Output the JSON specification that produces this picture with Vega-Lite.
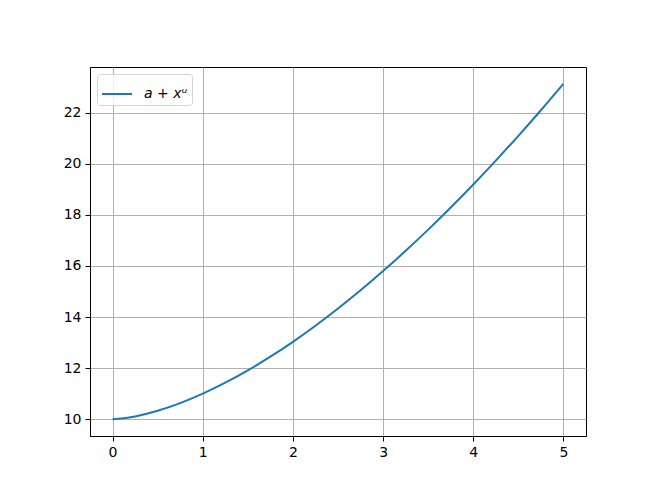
{
  "$schema": "https://vega.github.io/schema/vega-lite/v6.json",
  "width": 496,
  "height": 369,
  "autosize": {"type": "none"},
  "padding": {"left": 90, "top": 67, "right": 74, "bottom": 63},
  "background": "white",
  "data": {
    "values": [
      {"x": 0, "y": 10.0, "series": "a + xᵘ"},
      {"x": 0.1, "y": 10.025, "series": "a + xᵘ"},
      {"x": 0.25, "y": 10.109, "series": "a + xᵘ"},
      {"x": 0.5, "y": 10.33, "series": "a + xᵘ"},
      {"x": 0.75, "y": 10.631, "series": "a + xᵘ"},
      {"x": 1, "y": 11.0, "series": "a + xᵘ"},
      {"x": 1.25, "y": 11.429, "series": "a + xᵘ"},
      {"x": 1.5, "y": 11.913, "series": "a + xᵘ"},
      {"x": 1.75, "y": 12.448, "series": "a + xᵘ"},
      {"x": 2, "y": 13.031, "series": "a + xᵘ"},
      {"x": 2.25, "y": 13.66, "series": "a + xᵘ"},
      {"x": 2.5, "y": 14.332, "series": "a + xᵘ"},
      {"x": 2.75, "y": 15.046, "series": "a + xᵘ"},
      {"x": 3, "y": 15.8, "series": "a + xᵘ"},
      {"x": 3.25, "y": 16.592, "series": "a + xᵘ"},
      {"x": 3.5, "y": 17.422, "series": "a + xᵘ"},
      {"x": 3.75, "y": 18.289, "series": "a + xᵘ"},
      {"x": 4, "y": 19.19, "series": "a + xᵘ"},
      {"x": 4.25, "y": 20.127, "series": "a + xᵘ"},
      {"x": 4.5, "y": 21.096, "series": "a + xᵘ"},
      {"x": 4.75, "y": 22.097, "series": "a + xᵘ"},
      {"x": 5, "y": 23.133, "series": "a + xᵘ"}
    ]
  },
  "mark": {"type": "line", "strokeWidth": 2, "interpolate": "monotone"},
  "encoding": {
    "x": {
      "field": "x",
      "type": "quantitative",
      "scale": {"domain": [-0.25, 5.25], "nice": false, "zero": false},
      "axis": {"values": [0, 1, 2, 3, 4, 5], "title": null, "format": "d"}
    },
    "y": {
      "field": "y",
      "type": "quantitative",
      "scale": {"domain": [9.343, 23.79], "nice": false, "zero": false},
      "axis": {"values": [10, 12, 14, 16, 18, 20, 22], "title": null, "format": "d"}
    },
    "color": {
      "field": "series",
      "type": "nominal",
      "scale": {"range": ["#1f77b4"]},
      "legend": {
        "title": null,
        "orient": "none",
        "legendX": 7,
        "legendY": 7,
        "symbolType": "stroke",
        "symbolStrokeWidth": 2,
        "symbolSize": 900,
        "symbolOffset": 0,
        "labelOffset": 11,
        "labelFontSize": 14,
        "labelFontStyle": "italic",
        "labelFont": "DejaVu Sans",
        "labelColor": "black",
        "strokeColor": "#d5d5d5",
        "fillColor": "rgba(255,255,255,0.8)",
        "cornerRadius": 3,
        "padding": 4
      }
    }
  },
  "config": {
    "view": {"stroke": "black", "strokeWidth": 1},
    "axis": {
      "grid": true,
      "gridColor": "#b0b0b0",
      "gridWidth": 1,
      "domainColor": "black",
      "domainWidth": 1,
      "tickColor": "black",
      "tickSize": 5,
      "tickWidth": 1,
      "labelFont": "DejaVu Sans",
      "labelFontSize": 14,
      "labelColor": "black",
      "labelPadding": 4
    }
  }
}
